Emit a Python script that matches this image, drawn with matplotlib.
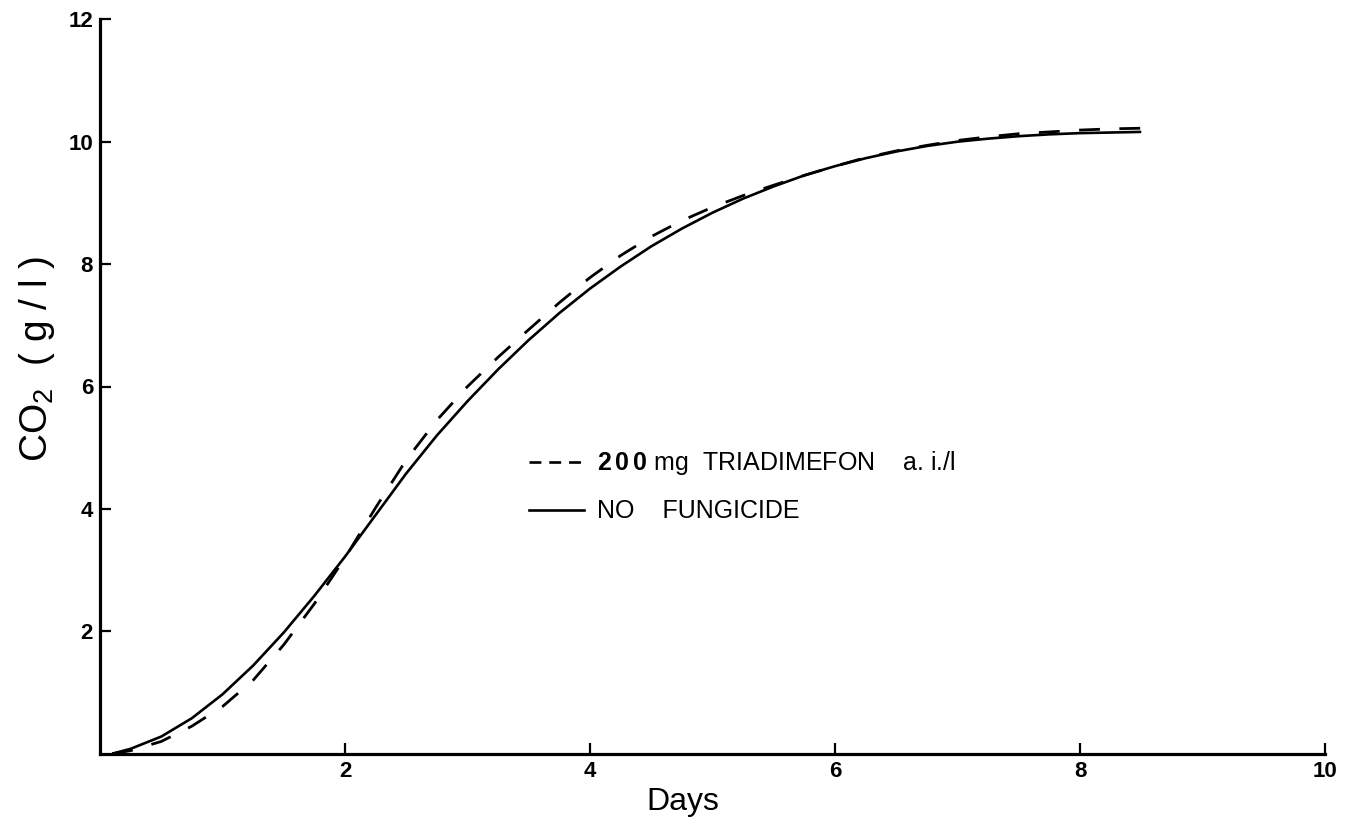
import numpy as np
import matplotlib
matplotlib.use("Agg")
import matplotlib.pyplot as plt
from matplotlib.lines import Line2D

plt.rcParams['font.family'] = ['Liberation Sans', 'DejaVu Sans']
plt.rcParams['mathtext.fontset'] = 'custom'
plt.rcParams['mathtext.rm'] = 'Liberation Sans'
plt.rcParams['mathtext.bf'] = 'Liberation Sans:bold'

# valeurs (jours, CO2 en g/l)
days = [0.1, 0.25, 0.5, 0.75, 1.0, 1.25, 1.5, 1.75, 2.0, 2.25, 2.5, 2.75,
        3.0, 3.25, 3.5, 3.75, 4.0, 4.25, 4.5, 4.75, 5.0, 5.25, 5.5, 5.75,
        6.0, 6.25, 6.5, 6.75, 7.0, 7.25, 7.5, 7.75, 8.0, 8.25, 8.5]
co2_none = [0.0, 0.08, 0.28, 0.58, 0.97, 1.44, 1.98, 2.58, 3.22, 3.9, 4.58,
            5.2, 5.76, 6.28, 6.76, 7.2, 7.6, 7.96, 8.29, 8.58, 8.84, 9.07,
            9.27, 9.45, 9.6, 9.73, 9.84, 9.93, 10.0, 10.05, 10.09, 10.12,
            10.14, 10.15, 10.16]
co2_triad = [0.0, 0.05, 0.2, 0.45, 0.77, 1.2, 1.78, 2.45, 3.2, 4.02, 4.8,
             5.45, 6.0, 6.48, 6.93, 7.37, 7.78, 8.14, 8.45, 8.71, 8.93, 9.12,
             9.29, 9.45, 9.6, 9.74, 9.85, 9.94, 10.02, 10.08, 10.13, 10.16,
             10.19, 10.21, 10.22]

xticks = [2, 4, 6, 8, 10]
yticks = [2, 4, 6, 8, 10, 12]

label_triad = r'$\mathbf{2\,0\,0}$ mg  TRIADIMEFON    a. i./l'
label_none = 'NO    FUNGICIDE'

fig = plt.figure(figsize=(13.51, 8.23), dpi=100)
ax = fig.add_axes([100 / 1351, 1 - 753.7 / 823, 1225 / 1351, 734.4 / 823])

ax.plot(days, co2_none, color='black', lw=1.9, solid_capstyle='butt')
ax.plot(days, co2_triad, color='black', lw=2.0, linestyle=(0, (7.5, 7.0)))

ax.set_xlim(0, 10)
ax.set_ylim(0, 12)
ax.set_xticks(xticks)
ax.set_yticks(yticks)
ax.spines['top'].set_visible(False)
ax.spines['right'].set_visible(False)
for s in ['left', 'bottom']:
    ax.spines[s].set_linewidth(2.3)
ax.tick_params(direction='in', length=8, width=1.6, labelsize=16, pad=5)
for lab in ax.get_xticklabels() + ax.get_yticklabels():
    lab.set_fontweight('bold')

ax.set_xlabel('Days', fontsize=23)
ax.xaxis.set_label_coords(0.476, -0.046)
ax.set_ylabel(r'CO$_2$  ( g / l )', fontsize=28)
ax.yaxis.set_label_coords(-0.035, 0.537)

# légende avec des poignées de remplacement (tirets plus courts)
handles = [Line2D([], [], color='black', lw=1.9, linestyle=(0, (4.5, 3.0))),
           Line2D([], [], color='black', lw=1.9)]
leg = ax.legend(handles, [label_triad, label_none], loc='center left',
                bbox_to_anchor=(0.332, 0.364), frameon=False, fontsize=18,
                handlelength=2.2, handletextpad=0.52, labelspacing=0.88)

fig.savefig('out.png', dpi=100)
